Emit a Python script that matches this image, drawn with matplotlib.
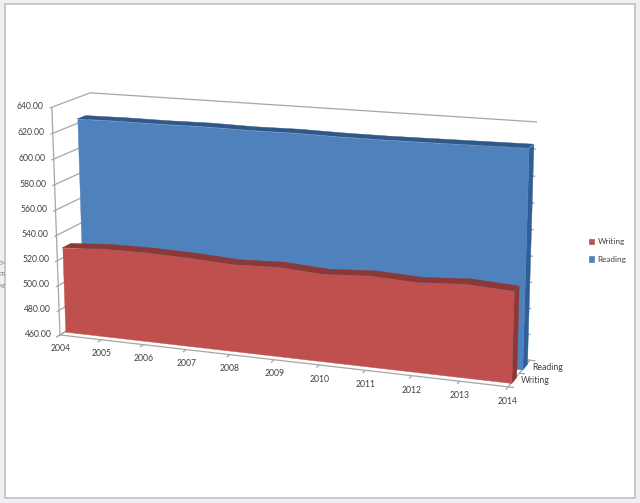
import numpy as np
import matplotlib
matplotlib.use('Agg')
import matplotlib.pyplot as plt
from matplotlib.patches import Patch, Rectangle
from mpl_toolkits.mplot3d.art3d import Poly3DCollection, Line3DCollection

plt.rcParams['font.family'] = ['Lato', 'DejaVu Sans']

years = [2004, 2005, 2006, 2007, 2008, 2009, 2010, 2011, 2012, 2013, 2014]
writing = [528, 530.3, 530.6, 529.7, 528, 529.4, 527.3, 529.5, 528, 530.3, 528.5]
reading = [623.5, 624, 624, 624.5, 624, 624.5, 624, 624, 624.5, 625, 625.5]
series_names = ['Writing', 'Reading']
value_ticks = [460, 480, 500, 520, 540, 560, 580, 600, 620, 640]

W, H = 640, 503
Z0, Z1 = 460, 640
DEPTH = 2.0
HALF = 0.22

# where the corners of the chart box land in the picture
box_corners = [(0, 0, 640), (0, 2, 640), (10, 2, 640), (10, 2, 460), (10, 0, 460), (0, 0, 460)]
box_pixels = [(52, 107), (90, 93), (537, 122), (530, 360), (508, 387), (60, 335)]


def fit_projection(ax):
    # camera matrix for the excel style perspective, solved from the box corners
    to_view = ax.transData.inverted()
    T = np.array([[0.1, 0, 0, 0], [0, 0.5, 0, 0], [0, 0, 1 / (Z1 - Z0), -Z0 / (Z1 - Z0)], [0, 0, 0, 1]])
    A, b = [], []
    for corner, pix in zip(box_corners, box_pixels):
        X, Y, Z, _ = T @ np.array([*corner, 1.0])
        u, v = to_view.transform((pix[0], H - pix[1]))
        A.append([X, Y, Z, 1, 0, 0, 0, 0, -u * X, -u * Y, -u * Z])
        A.append([0, 0, 0, 0, X, Y, Z, 1, -v * X, -v * Y, -v * Z])
        b += [u, v]
    p = np.linalg.lstsq(np.array(A), np.array(b), rcond=None)[0]
    P = np.array([p[:4], p[4:8], [0, 1, 0, 0], [p[8], p[9], p[10], 1]])
    return P @ T


def add_band(ax, xs, values, y0, y1, front, top, side, order):
    xs = np.asarray(xs, dtype=float)
    values = np.asarray(values, dtype=float)
    face = [(x, y0, v) for x, v in zip(xs, values)] + [(xs[-1], y0, Z0), (xs[0], y0, Z0)]
    tops = [[(xs[i], y0, values[i]), (xs[i + 1], y0, values[i + 1]),
             (xs[i + 1], y1, values[i + 1]), (xs[i], y1, values[i])] for i in range(len(xs) - 1)]
    end = [(xs[-1], y0, values[-1]), (xs[-1], y1, values[-1]), (xs[-1], y1, Z0), (xs[-1], y0, Z0)]
    for verts, col, z in [(tops, top, order), ([end], side, order + 0.1), ([face], front, order + 0.2)]:
        poly = Poly3DCollection(verts, facecolors=col, edgecolors=col, linewidths=0.3)
        poly.set_zorder(z)
        ax.add_collection3d(poly)


def main():
    fig = plt.figure(figsize=(W / 100, H / 100), dpi=100, facecolor='#eef0f2')
    fig.add_artist(Rectangle((5 / W, 1 - 498 / H), 630 / W, 494 / H, transform=fig.transFigure,
                             facecolor='white', edgecolor='#bfc3c7', linewidth=1.2, zorder=-1))

    # square axes wider than the figure, so nothing gets clipped by the 3d box
    ax = fig.add_axes([0, -(W - H) / 2 / H, 1, W / H], projection='3d', computed_zorder=False)
    ax.set_axis_off()
    ax.patch.set_visible(False)
    M = fit_projection(ax)
    ax.get_proj = lambda: M

    def label(x, y, z, s, **kw):
        # 2d text at the projected spot
        vec = M @ np.array([x, y, z, 1.0])
        px = ax.transData.transform((vec[0] / vec[3], vec[1] / vec[3]))
        fig.text(px[0] / W, px[1] / H, s, fontsize=6.2, color='#404040', **kw)

    xs = np.arange(len(years))
    last = float(xs[-1])
    segs = []

    # walls, no verticals at the back corners in the original
    for v in value_ticks:
        segs.append([(0, -0.12, v), (0, DEPTH, v)])
        segs.append([(0, DEPTH, v), (last, DEPTH, v)])
        label(-0.2, 0, v, '%.2f' % v, ha='right', va='center')
    segs.append([(0, 0, Z0), (0, 0, Z1)])

    # floor
    segs.append([(0, 0, Z0), (last, 0, Z0)])
    segs.append([(last, 0, Z0), (last, DEPTH, Z0)])
    segs.append([(last, DEPTH, Z0), (0, DEPTH, Z0)])
    segs.append([(0, 0, Z0), (0, DEPTH, Z0)])
    for x, year in zip(xs, years):
        segs.append([(x, 0, Z0), (x, -0.2, Z0)])
        label(x, 0, Z0 - 11, str(year), ha='center', va='center')
    for y in [0, 1, 2]:
        segs.append([(last, y, Z0), (last + 0.12, y, Z0)])
    for i, name in enumerate(series_names):
        label(last + 0.15, i + 0.5, Z0, name, ha='left', va='center')

    grid = Line3DCollection(segs, colors='#a6a6a6', linewidths=0.9)
    grid.set_zorder(1)
    ax.add_collection3d(grid)

    add_band(ax, xs, reading, 1.5 - HALF, 1.5 + HALF, '#4f81bd', '#2f5788', '#2f5f96', 2)
    add_band(ax, xs, writing, 0.5 - HALF, 0.5 + HALF, '#c0504d', '#8c3836', '#8c3836', 3)

    handles = [Patch(facecolor='#c0504d', edgecolor='#a04040', linewidth=0.4),
               Patch(facecolor='#4f81bd', edgecolor='#3f6fa8', linewidth=0.4)]
    fig.legend(handles, series_names, loc='center left', bbox_to_anchor=(589 / W, 1 - 250.5 / H), frameon=False,
               fontsize=5.9, labelcolor='#404040', handlelength=0.65, handleheight=0.65, handletextpad=0.4,
               labelspacing=1.3, borderpad=0, borderaxespad=0)

    # scraps of the worksheet row numbers behind the chart
    for digit, py in zip(['9', '8', '4'], [262, 273, 285]):
        fig.text(3.5 / W, 1 - py / H, digit, fontsize=5.5, color='#808080', rotation=90, ha='center', va='center')

    fig.savefig('out.png', dpi=100, facecolor=fig.get_facecolor())


if __name__ == '__main__':
    main()
